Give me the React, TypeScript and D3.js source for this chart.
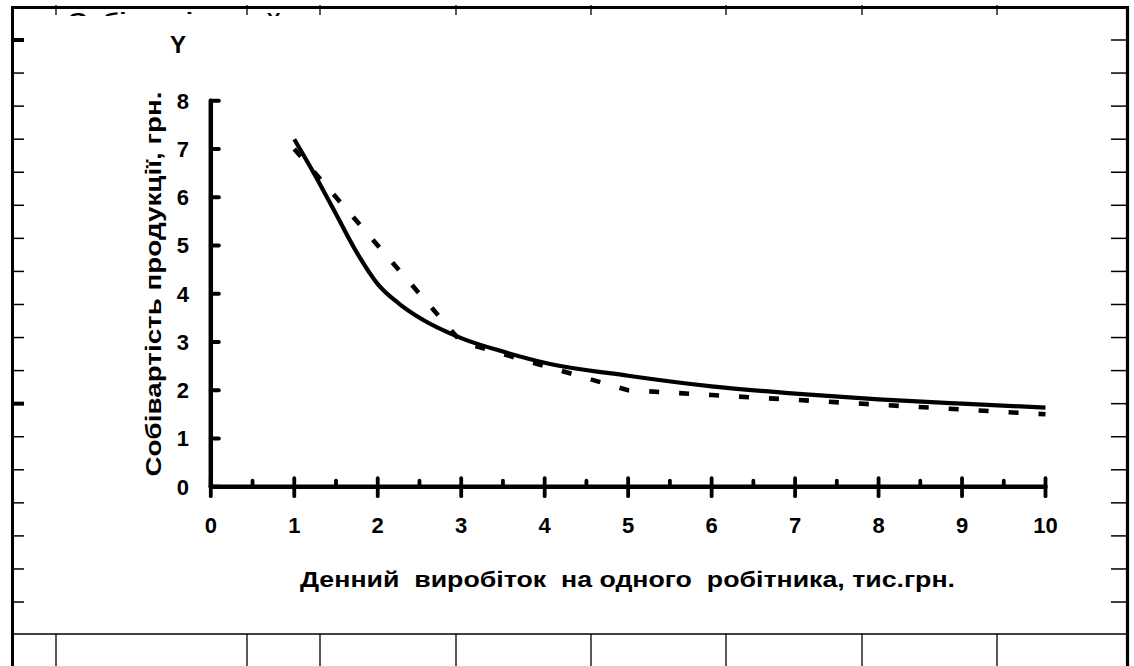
import React from "react";
import * as d3 from "d3";

// Daily output per worker (thousand UAH) and unit cost of production (UAH)
const trendX = [1, 1.25, 1.5, 1.75, 2, 2.25, 2.5, 3, 3.5, 4, 5, 6, 7, 8, 9, 10];
const trendY = [7.2, 6.45, 5.65, 4.85, 4.2, 3.8, 3.5, 3.08, 2.8, 2.57, 2.3, 2.08, 1.93, 1.81, 1.72, 1.64];

const actualX = [1, 3, 4, 5, 6, 7, 8, 9, 10];
const actualY = [7.0, 3.0, 2.5, 2.0, 1.9, 1.8, 1.7, 1.6, 1.5];

const xTicks = [0, 1, 2, 3, 4, 5, 6, 7, 8, 9, 10];
const xMinorTicks = [0.5, 1.5, 2.5, 3.5, 4.5, 5.5, 6.5, 7.5, 8.5, 9.5];
const yTicks = [0, 1, 2, 3, 4, 5, 6, 7, 8];

const yTitle = "Собівартість продукції, грн.";
const xTitle = "Денний  виробіток  на одного  робітника, тис.грн.";
const yLetter = "Y";
const headerText = "Собівартість,";

// Sheet frame: column rulings of the surrounding form
const frameColumns = [56, 247, 320, 456, 591, 726, 862, 997];

const W = 1134;
const H = 666;
const FONT = "'Liberation Sans', Arial, sans-serif";

export default function App() {
  const x = d3.scaleLinear().domain([0, 10]).range([210.8, 1045.5]);
  const y = d3.scaleLinear().domain([0, 8]).range([486.7, 100.7]);

  const trendLine = d3
    .line<number>()
    .x((_, i) => x(trendX[i]))
    .y((d) => y(d))
    .curve(d3.curveMonotoneX)(trendY) as string;

  const actualLine = d3
    .line<number>()
    .x((_, i) => x(actualX[i]))
    .y((d) => y(d))
    .curve(d3.curveLinear)(actualY) as string;

  const frameRows = d3.range(18).map((k) => 40 + k * 33.06);

  return (
    <svg
      width={W}
      height={H}
      viewBox={`0 0 ${W} ${H}`}
      style={{ position: "absolute", left: 0, top: 0, background: "#fff" }}
    >
      <defs>
        <clipPath id="header-clip">
          <rect x={14} y={9} width={1100} height={7} />
        </clipPath>
      </defs>
      <rect x={0} y={0} width={W} height={H} fill="#fff" />

      {/* partially hidden heading of the form */}
      <g clipPath="url(#header-clip)" fontFamily={FONT} fontWeight="bold" fontSize={20} fill="#000">
        <text x={68} y={26.5} textLength={176} lengthAdjust="spacingAndGlyphs">
          {headerText}
        </text>
        <text x={267} y={26.5}>
          {yLetter}
        </text>
      </g>

      {/* form frame */}
      <g stroke="#000" fill="none">
        <line x1={11} y1={7.5} x2={1129} y2={7.5} strokeWidth={3} />
        <line x1={12.5} y1={6} x2={12.5} y2={H} strokeWidth={3} />
        <line x1={1127.5} y1={6} x2={1127.5} y2={H} strokeWidth={3.2} />
        <line x1={14} y1={634} x2={1126} y2={634} strokeWidth={1.6} />
        {frameColumns.map((c) => (
          <g key={c}>
            <line x1={c} y1={5} x2={c} y2={15} strokeWidth={1.3} />
            <line x1={c} y1={634} x2={c} y2={H} strokeWidth={1.3} />
          </g>
        ))}
        {frameRows.map((r, k) => (
          <g key={k}>
            <line
              x1={14}
              y1={r}
              x2={24}
              y2={r}
              strokeWidth={k === 0 || k === 11 ? 4 : 1.5}
            />
            <line x1={1111} y1={r} x2={1126} y2={r} strokeWidth={1.5} />
          </g>
        ))}
      </g>

      {/* axes */}
      <g stroke="#000" strokeLinecap="round" fill="none">
        <line x1={x(0)} y1={y(8)} x2={x(0)} y2={y(0)} strokeWidth={4.5} />
        <line x1={x(0)} y1={y(0)} x2={x(10)} y2={y(0)} strokeWidth={4.5} />
        {yTicks.map((t) => (
          <line key={t} x1={x(0)} y1={y(t)} x2={x(0) + 8} y2={y(t)} strokeWidth={4} />
        ))}
        {xTicks.map((t) => (
          <line key={t} x1={x(t)} y1={y(0) - 8.5} x2={x(t)} y2={y(0) + 9.5} strokeWidth={3.8} />
        ))}
        {xMinorTicks.map((t) => (
          <line key={t} x1={x(t)} y1={y(0) - 6} x2={x(t)} y2={y(0)} strokeWidth={3.8} />
        ))}
      </g>

      {/* series */}
      <path d={actualLine} fill="none" stroke="#000" strokeWidth={4.6} strokeDasharray="10 20" />
      <path d={trendLine} fill="none" stroke="#000" strokeWidth={4.2} strokeLinecap="butt" />

      {/* labels */}
      <g fontFamily={FONT} fontWeight="bold" fill="#000">
        {xTicks.map((t) => (
          <text key={t} x={x(t)} y={532.5} fontSize={22} textAnchor="middle">
            {t}
          </text>
        ))}
        {yTicks.map((t) => (
          <text key={t} x={189} y={y(t) + 7.9} fontSize={22} textAnchor="end">
            {t}
          </text>
        ))}
        <text x={178} y={53} fontSize={24} textAnchor="middle">
          {yLetter}
        </text>
        <text
          transform={`translate(161,284) rotate(-90)`}
          fontSize={22}
          textAnchor="middle"
          textLength={385}
          lengthAdjust="spacingAndGlyphs"
        >
          {yTitle}
        </text>
        <text
          x={627.5}
          y={587}
          fontSize={22}
          textAnchor="middle"
          textLength={655}
          lengthAdjust="spacingAndGlyphs"
          style={{ whiteSpace: "pre" }}
        >
          {xTitle}
        </text>
      </g>
    </svg>
  );
}
